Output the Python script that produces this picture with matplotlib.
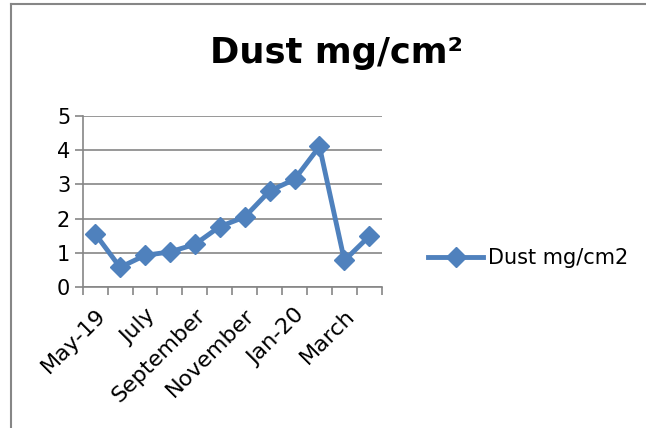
import numpy as np
import matplotlib
matplotlib.use("Agg")
import matplotlib.pyplot as plt
from matplotlib.lines import Line2D

months = ["May-19", "June", "July", "August", "September", "October",
          "November", "December", "Jan-20", "February", "March", "April"]
dust = [1.56, 0.58, 0.93, 1.03, 1.25, 1.77, 2.05, 2.81, 3.15, 4.11, 0.78, 1.49]
shown = [0, 2, 4, 6, 8, 10]

plt.rcParams["font.family"] = ["DejaVu Sans"]
blue = "#4F81BD"
grey = "#868686"

fig = plt.figure(figsize=(6.46, 4.28), dpi=100)
ax = fig.add_axes([0.128, 0.329, 0.463, 0.400])

x = np.arange(len(dust))
ax.plot(x, dust, color=blue, lw=3.5, marker="D", ms=10.5, mec=blue, mfc=blue,
        label="Dust mg/cm2", clip_on=False, zorder=3)

ax.set_xlim(-0.5, len(dust) - 0.5)
ax.set_ylim(0, 5)
ax.set_yticks(range(6))
ax.yaxis.grid(True, color=grey, lw=1.2)
ax.set_axisbelow(True)

# category boundary ticks, labels at centres
ax.set_xticks(np.arange(-0.5, len(dust)), minor=False)
ax.set_xticklabels([])
ax.set_xticks([x[i] for i in shown], minor=True)
ax.set_xticklabels([months[i] for i in shown], minor=True, rotation=45,
                   ha="right", va="top", rotation_mode="anchor", fontsize=16)
ax.tick_params(axis="x", which="minor", length=0, pad=13)
ax.tick_params(axis="x", which="major", length=6, width=1.2, color=grey)
ax.tick_params(axis="y", length=6, width=1.2, color=grey, labelsize=15, pad=3)

for s in ["top", "right"]:
    ax.spines[s].set_visible(False)
ax.spines["left"].set_color(grey)
ax.spines["bottom"].set_color(grey)
ax.spines["left"].set_linewidth(1.2)
ax.spines["bottom"].set_linewidth(1.2)

fig.text(0.521, 0.853, "Dust mg/cm²", ha="center", va="baseline",
         fontsize=25.5, fontweight="bold")

handle = Line2D([], [], color=blue, lw=3.5, marker="D", ms=10.5)
fig.legend([handle], ["Dust mg/cm2"], loc="center left",
           bbox_to_anchor=(0.6625, 0.397), frameon=False, fontsize=15,
           handlelength=2.65, handletextpad=0.25, borderpad=0, borderaxespad=0)

# outer chart border (left and top)
fig.add_artist(Line2D([0.017, 0.017], [0, 0.99], color=grey, lw=1.5))
fig.add_artist(Line2D([0.017, 1], [0.99, 0.99], color=grey, lw=1.5))

fig.savefig("out.png", dpi=100)
